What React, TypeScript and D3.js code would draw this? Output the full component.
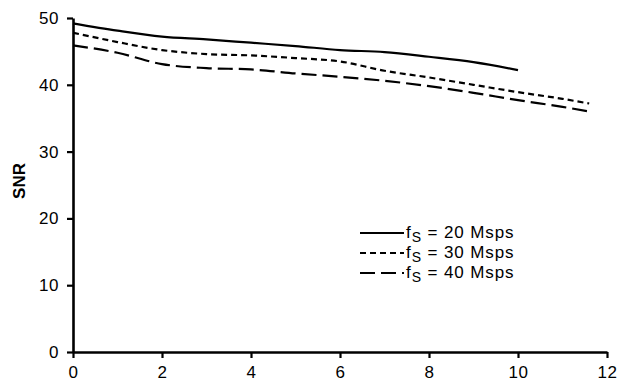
import { useEffect, useRef } from "react"
import * as d3 from "d3"

const xs20 = [0, 1, 2, 3, 4, 5, 6, 7, 8, 9, 10]
const snr20 = [49.2, 48.1, 47.2, 46.8, 46.3, 45.8, 45.2, 44.9, 44.2, 43.4, 42.2]
const xs30 = [0, 1, 2, 3, 4, 5, 6, 7, 8, 9, 10, 11, 11.6]
const snr30 = [47.8, 46.4, 45.2, 44.6, 44.4, 44.0, 43.5, 42.1, 41.1, 40.0, 38.9, 37.9, 37.2]
const xs40 = [0, 1, 2, 3, 4, 5, 6, 7, 8, 9, 10, 11, 11.6]
const snr40 = [45.9, 44.8, 43.1, 42.5, 42.3, 41.7, 41.2, 40.6, 39.8, 38.8, 37.7, 36.7, 36.0]
const labels = ["20 Msps", "30 Msps", "40 Msps"]
const dashes = ["none", "6,4", "15,6"]
const xTicks = [0, 2, 4, 6, 8, 10, 12]
const yTicks = [0, 10, 20, 30, 40, 50]

export default function App() {
  const ref = useRef<SVGSVGElement>(null)
  useEffect(() => {
    if (!ref.current) return
    const svg = d3.select(ref.current)
    svg.selectAll("*").remove()
    const font = "'Liberation Sans', Arial, sans-serif"
    const x = d3.scaleLinear().domain([0, 12]).range([73, 607])
    const y = d3.scaleLinear().domain([0, 50]).range([352, 18])

    const series = [
      xs20.map((d, i) => [d, snr20[i]] as [number, number]),
      xs30.map((d, i) => [d, snr30[i]] as [number, number]),
      xs40.map((d, i) => [d, snr40[i]] as [number, number]),
    ]
    const line = d3.line<[number, number]>().x(d => x(d[0])).y(d => y(d[1])).curve(d3.curveMonotoneX)
    series.forEach((s, i) => {
      svg.append("path").attr("d", line(s)!).attr("fill", "none").attr("stroke", "#000")
        .attr("stroke-width", 2.2).attr("stroke-dasharray", dashes[i])
    })

    const styleAxis = (g: any) => {
      g.select(".domain").attr("stroke-width", 2.6)
      g.selectAll("line").attr("stroke-width", 2.2)
      g.selectAll("text").style("font-family", font).style("font-size", "17px")
        .style("letter-spacing", "0.6px").attr("fill", "#000")
    }
    svg.append("g").attr("transform", `translate(0,352)`)
      .call(d3.axisBottom(x).tickValues(xTicks).tickSize(6).tickSizeOuter(0).tickPadding(8))
      .call(styleAxis)
    svg.append("g").attr("transform", `translate(73,0)`)
      .call(d3.axisLeft(y).tickValues(yTicks).tickSize(6).tickSizeOuter(0).tickPadding(8))
      .call(styleAxis)

    svg.append("text").attr("transform", "translate(25,181) rotate(-90)").attr("text-anchor", "middle")
      .style("font-family", font).style("font-size", "17px").style("font-weight", "bold").text("SNR")

    const rows = [233, 253, 273]
    labels.forEach((lab, i) => {
      svg.append("line").attr("x1", 360).attr("x2", 404).attr("y1", rows[i]).attr("y2", rows[i])
        .attr("stroke", "#000").attr("stroke-width", 2.2).attr("stroke-dasharray", dashes[i])
      const t = svg.append("text").attr("x", 406).attr("y", rows[i] + 5)
        .style("font-family", font).style("font-size", "17px").style("letter-spacing", "0.9px")
      t.append("tspan").text("f")
      t.append("tspan").attr("dy", 4).style("font-size", "14px").text("S")
      t.append("tspan").attr("dy", -4).text(" = " + lab)
    })
  }, [])
  return <svg ref={ref} width={619} height={382} style={{ position: "absolute", left: 0, top: 0, background: "#fff" }} />
}
